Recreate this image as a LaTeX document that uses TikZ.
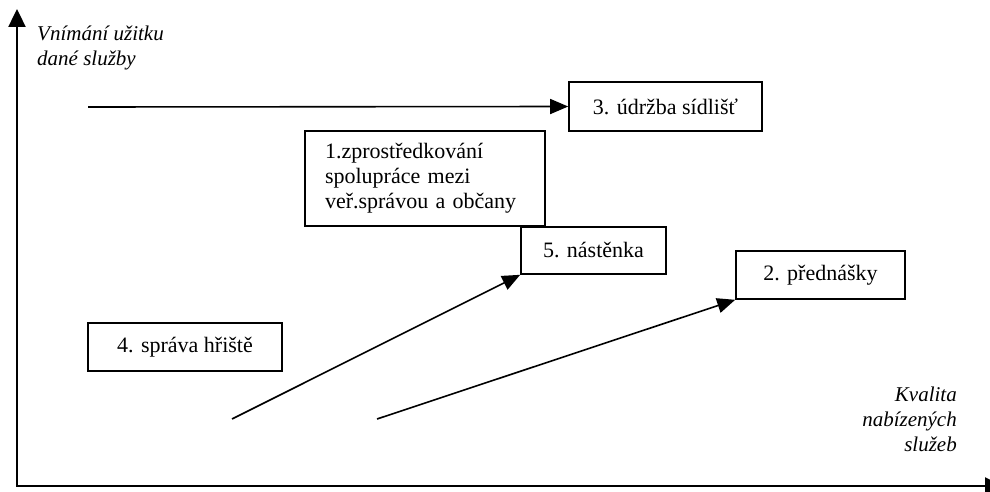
\documentclass[tikz,border=0pt]{standalone}
\usepackage{fontspec}
\setmainfont{Liberation Serif}
\usetikzlibrary{arrows.meta}
\begin{document}
\begin{tikzpicture}[x=1pt,y=-1pt,
  box/.style={draw,line width=1.6pt,inner sep=0pt,font=\fontsize{22}{25}\selectfont},
  conn/.style={line width=1.6pt,-{Triangle[length=18pt,width=15pt]}},
  axis/.style={line width=2.4pt,{Triangle[length=18pt,width=17pt]}-{Triangle[length=18pt,width=17pt]}},
  lab/.style={font=\fontsize{21}{25}\selectfont\itshape,inner sep=0pt}]
\useasboundingbox (0,0) rectangle (990,492);
% boxes
\node[box,minimum width=193pt,minimum height=49pt] (b3) at (665.5,106.5) {3. údržba sídlišť};
\node[box,minimum width=240pt,minimum height=95pt,text width=200pt,inner xsep=20pt,align=left] (b1) at (425,178.5) {\raisebox{-3pt}{\parbox{200pt}{1.zprostředkování\\spolupráce mezi\\veř.správou a občany}}};
\node[box,minimum width=145pt,minimum height=47pt] (b5) at (593.5,250.5) {5. nástěnka};
\node[box,minimum width=169pt,minimum height=48pt] (b2) at (820.5,275) {2. přednášky};
\node[box,minimum width=194pt,minimum height=48pt] (b4) at (185,347) {4. správa hřiště};
% connectors
\coordinate (s3) at (88,107);
\coordinate (s5) at (232,419);
\coordinate (s2) at (377,419);
\draw[conn] (s3) -- (b3.west);
\draw[conn] (s5) -- (b5.south west);
\draw[conn] (s2) -- (b2.south west);
% axes
\coordinate (O) at (17,486);
\coordinate (ytop) at (17,9);
\coordinate (xend) at (1003,486);
\draw[axis] (ytop) -- (O) -- (xend);
% axis labels
\node[lab,anchor=north west,align=left] (ylab) at (37,26) {Vnímání užitku\\dané služby};
\node[lab,anchor=north east,align=right] (xlab) at (957,387) {Kvalita\\nabízených\\služeb};
\end{tikzpicture}
\end{document}
